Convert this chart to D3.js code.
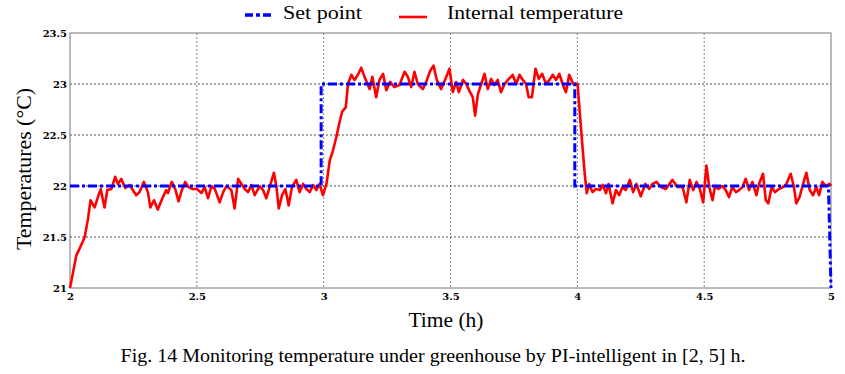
<!DOCTYPE html>
<html>
<head>
<meta charset="utf-8">
<script src="https://cdn.jsdelivr.net/npm/d3@7"></script>
<style>
  body { margin: 0; background: #fff; }
  svg { display: block; font-family: "Liberation Serif", "Times New Roman", serif; }
</style>
</head>
<body>
<svg id="chart" width="845" height="374"></svg>
<script>
// tick labels
const xTicks = [2, 2.5, 3, 3.5, 4, 4.5, 5];
const yTicks = [21, 21.5, 22, 22.5, 23, 23.5];

// set point (step signal)
const spTime = [2, 2.99, 2.99, 3.99, 3.99, 4.99, 5.0];
const spTemp = [22, 22, 23, 23, 22, 22, 21];

// internal temperature
const inTime = [
  2.0, 2.025, 2.044, 2.058, 2.071, 2.081, 2.097, 2.11, 2.121, 2.136, 2.147, 2.163, 2.178, 2.189, 2.202,
  2.218, 2.235, 2.261, 2.274, 2.291, 2.307, 2.317, 2.331, 2.346, 2.366, 2.379, 2.386, 2.401, 2.415, 2.428,
  2.441, 2.454, 2.467, 2.484, 2.501, 2.518, 2.531, 2.544, 2.558, 2.571, 2.59, 2.604, 2.617, 2.636, 2.649,
  2.663, 2.676, 2.689, 2.702, 2.715, 2.728, 2.748, 2.761, 2.774, 2.787, 2.804, 2.814, 2.823, 2.836, 2.849,
  2.862, 2.875, 2.892, 2.905, 2.919, 2.932, 2.945, 2.958, 2.971, 2.984, 2.997, 3.011, 3.024, 3.037, 3.05,
  3.063, 3.073, 3.087, 3.096, 3.109, 3.122, 3.135, 3.148, 3.161, 3.181, 3.192, 3.207, 3.22, 3.234, 3.247,
  3.262, 3.279, 3.299, 3.319, 3.332, 3.345, 3.358, 3.371, 3.391, 3.404, 3.42, 3.433, 3.446, 3.463, 3.48,
  3.496, 3.509, 3.522, 3.533, 3.549, 3.562, 3.577, 3.588, 3.597, 3.608, 3.621, 3.634, 3.647, 3.66, 3.673,
  3.686, 3.699, 3.713, 3.73, 3.745, 3.759, 3.772, 3.785, 3.798, 3.808, 3.821, 3.835, 3.848, 3.861, 3.877,
  3.89, 3.903, 3.916, 3.929, 3.942, 3.955, 3.968, 3.984, 4.001, 4.014, 4.028, 4.037, 4.047, 4.06, 4.073,
  4.089, 4.1, 4.113, 4.123, 4.139, 4.152, 4.165, 4.178, 4.191, 4.207, 4.22, 4.233, 4.25, 4.268, 4.283,
  4.296, 4.312, 4.329, 4.349, 4.375, 4.395, 4.415, 4.43, 4.443, 4.457, 4.47, 4.483, 4.496, 4.509, 4.52,
  4.533, 4.543, 4.556, 4.572, 4.585, 4.598, 4.611, 4.625, 4.638, 4.651, 4.664, 4.677, 4.69, 4.706, 4.716,
  4.732, 4.743, 4.753, 4.766, 4.779, 4.795, 4.811, 4.824, 4.841, 4.854, 4.863, 4.876, 4.89, 4.903, 4.916,
  4.929, 4.942, 4.953, 4.966, 4.979, 4.995, 5.0
];
const inTemp = [
  21.0, 21.32, 21.42, 21.5, 21.68, 21.86, 21.79, 21.89, 21.97, 21.79, 21.96, 21.97, 22.09, 22.02, 22.07,
  21.98, 22.01, 21.91, 21.94, 22.04, 21.94, 21.79, 21.86, 21.77, 21.89, 21.96, 21.93, 22.04, 21.97, 21.85,
  21.96, 22.04, 21.99, 21.97, 21.97, 21.93, 21.99, 21.88, 22.0, 21.97, 21.84, 21.94, 22.0, 21.96, 21.78,
  22.07, 22.02, 21.97, 21.94, 22.01, 21.91, 22.0, 21.96, 21.88, 21.99, 22.13, 21.99, 21.78, 21.91, 21.97,
  21.81, 21.99, 22.06, 21.94, 22.02, 21.97, 21.94, 22.01, 21.96, 22.02, 21.91, 22.02, 22.25, 22.35, 22.48,
  22.63, 22.73, 22.77, 23.0, 23.09, 23.04, 23.09, 23.16, 23.07, 22.95, 23.07, 22.87, 23.04, 23.1, 22.94,
  23.02, 22.97, 22.99, 23.12, 23.07, 22.97, 23.12, 23.0, 22.95, 23.02, 23.13, 23.18, 23.04, 22.95, 23.05,
  23.15, 22.92, 23.02, 22.92, 23.04, 23.0, 22.92, 22.87, 22.69, 22.9, 23.0, 23.1, 22.95, 23.05, 22.99,
  23.04, 22.92, 23.0, 23.05, 23.09, 23.0, 23.09, 23.04, 23.0, 22.87, 22.87, 23.15, 23.05, 23.1, 23.0,
  23.04, 23.09, 23.04, 23.1, 23.0, 22.92, 23.09, 23.0, 23.0, 22.58, 22.15, 21.93, 22.02, 21.94, 21.97,
  21.96, 22.01, 21.93, 22.02, 21.83, 21.96, 21.91, 21.99, 21.96, 22.06, 21.94, 22.02, 21.9, 22.02, 21.97,
  22.02, 22.04, 21.99, 21.97, 22.06, 21.99, 21.99, 21.84, 22.06, 21.96, 22.04, 21.97, 21.84, 22.2, 21.99,
  21.86, 22.0, 21.97, 22.0, 21.96, 21.89, 21.99, 21.94, 21.96, 21.99, 22.07, 21.96, 22.04, 21.91, 22.02,
  22.12, 21.86, 21.83, 21.99, 21.94, 21.97, 21.99, 22.02, 22.12, 21.99, 21.83, 21.89, 22.02, 22.13, 21.96,
  21.91, 21.99, 21.91, 22.04, 22.0, 22.02, 22.0
];

const svg = d3.select("#chart");
const margin = { top: 33, right: 14, bottom: 86, left: 70 };
const width = 845 - margin.left - margin.right;
const height = 374 - margin.top - margin.bottom;

const x = d3.scaleLinear().domain([2, 5]).range([0, width]);
const y = d3.scaleLinear().domain([21, 23.5]).range([height, 0]);

const g = svg.append("g").attr("transform", `translate(${margin.left},${margin.top})`);

// dotted grid
g.selectAll(".vgrid")
  .data(xTicks.slice(1, -1))
  .enter().append("line")
  .attr("x1", d => x(d)).attr("x2", d => x(d))
  .attr("y1", 0).attr("y2", height)
  .attr("stroke", "#666").attr("stroke-width", 0.8)
  .attr("stroke-dasharray", "2,2");

g.selectAll(".hgrid")
  .data(yTicks.slice(1, -1))
  .enter().append("line")
  .attr("x1", 0).attr("x2", width)
  .attr("y1", d => y(d)).attr("y2", d => y(d))
  .attr("stroke", "#222").attr("stroke-width", 0.8)
  .attr("stroke-dasharray", "2,2");

// box
g.append("rect")
  .attr("width", width).attr("height", height)
  .attr("fill", "none").attr("stroke", "#777").attr("stroke-width", 1);

// axes (labels only)
const xAxis = g.append("g")
  .attr("transform", `translate(0,${height})`)
  .call(d3.axisBottom(x).tickValues(xTicks).tickSize(0).tickPadding(5).tickFormat(d3.format("")));
const yAxis = g.append("g")
  .call(d3.axisLeft(y).tickValues(yTicks).tickSize(0).tickPadding(3).tickFormat(d3.format("")));
[xAxis, yAxis].forEach(a => {
  a.select(".domain").remove();
  a.selectAll("text")
    .style("font-family", "'DejaVu Serif', serif")
    .style("font-size", "10px").style("font-weight", "bold").attr("fill", "#000");
});

// lines
const line = d3.line().x(d => x(d[0])).y(d => y(d[1]));

g.append("path")
  .datum(d3.zip(inTime, inTemp))
  .attr("d", line)
  .attr("fill", "none").attr("stroke", "#ff0000")
  .attr("stroke-width", 2.6).attr("stroke-linejoin", "round");

g.append("path")
  .datum(d3.zip(spTime, spTemp))
  .attr("d", line)
  .attr("fill", "none").attr("stroke", "#0000ff")
  .attr("stroke-width", 3).attr("stroke-dasharray", "9,3,3,3");

// axis titles
svg.append("text")
  .attr("x", 446).attr("y", 327)
  .attr("text-anchor", "middle").style("font-size", "21px")
  .attr("textLength", 75).attr("lengthAdjust", "spacingAndGlyphs")
  .text("Time (h)");

svg.append("text")
  .attr("transform", "translate(31,169) rotate(-90)")
  .attr("text-anchor", "middle").style("font-size", "21px")
  .attr("textLength", 162).attr("lengthAdjust", "spacingAndGlyphs")
  .text("Temperatures (°C)");

// legend
const legend = svg.append("g");
legend.append("line")
  .attr("x1", 245).attr("x2", 271).attr("y1", 15).attr("y2", 15)
  .attr("stroke", "#0000ff").attr("stroke-width", 3.5).attr("stroke-dasharray", "8,3,4,3");
legend.append("text").attr("x", 283).attr("y", 19).style("font-size", "19px")
  .attr("textLength", 79).attr("lengthAdjust", "spacingAndGlyphs")
  .text("Set point");
legend.append("line")
  .attr("x1", 399).attr("x2", 427).attr("y1", 17).attr("y2", 17)
  .attr("stroke", "#ff0000").attr("stroke-width", 2.6);
legend.append("text").attr("x", 447).attr("y", 19).style("font-size", "19px")
  .attr("textLength", 176).attr("lengthAdjust", "spacingAndGlyphs")
  .text("Internal temperature");

// caption
svg.append("text")
  .attr("x", 433).attr("y", 362)
  .attr("text-anchor", "middle").style("font-size", "18px")
  .attr("textLength", 625).attr("lengthAdjust", "spacingAndGlyphs")
  .text("Fig. 14 Monitoring temperature under greenhouse by PI-intelligent in [2, 5] h.");
</script>
</body>
</html>
